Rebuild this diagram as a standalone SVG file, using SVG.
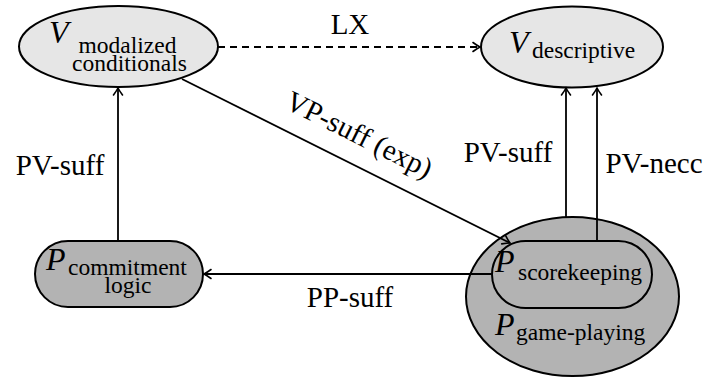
<svg xmlns="http://www.w3.org/2000/svg" width="714" height="377" viewBox="0 0 714 377">
<style>
.light{fill:#e6e6e6;stroke:#000;stroke-width:2}
.dark{fill:#b3b3b3;stroke:#000;stroke-width:2}
.big{font-family:"Liberation Serif",serif;font-style:italic;font-size:32px;fill:#000}
.sub{font-family:"Liberation Serif",serif;font-size:23.5px;fill:#000}
.lab{font-family:"Liberation Serif",serif;font-size:29px;fill:#000}
.edge{fill:none;stroke:#000;stroke-width:1.8}
</style>
<defs>
<marker id="arr" viewBox="-10 -6 12 12" refX="0" refY="0" markerWidth="12" markerHeight="12" markerUnits="userSpaceOnUse" orient="auto">
<path d="M-7,-4.5 Q-2.5,-1.2 0,0 Q-2.5,1.2 -7,4.5" fill="none" stroke="#000" stroke-width="1.6" stroke-linecap="round"/>
</marker>
</defs>
<g id="n-vmod">
<ellipse class="light" cx="118.5" cy="46.5" rx="99.5" ry="40.5"/>
<text class="big" x="49" y="43">V</text>
<text class="sub" text-anchor="middle"><tspan x="127.5" y="53">modalized</tspan><tspan x="129.5" y="71">conditionals</tspan></text>
</g>
<g id="n-vdesc">
<ellipse class="light" cx="572" cy="47" rx="91" ry="40.5"/>
<text class="big" x="509" y="53">V</text>
<text class="sub" x="532" y="58">descriptive</text>
</g>
<g id="n-pcomm">
<rect class="dark" x="35" y="241" width="168" height="66" rx="33" ry="33"/>
<text class="big" x="46" y="270">P</text>
<text class="sub" text-anchor="middle"><tspan x="127.5" y="275">commitment</tspan><tspan x="128" y="293">logic</tspan></text>
</g>
<g id="n-pgame">
<ellipse class="dark" cx="572.5" cy="296.5" rx="106.5" ry="79.5"/>
<text class="big" x="495" y="335">P</text>
<text class="sub" x="516" y="340">game-playing</text>
</g>
<g id="n-pscore">
<rect class="dark" x="492" y="241" width="160" height="67" rx="33.5" ry="33.5"/>
<text class="big" x="495" y="272">P</text>
<text class="sub" x="518" y="280">scorekeeping</text>
</g>
<g id="connectors">
<line class="edge" x1="218" y1="47" x2="480" y2="47" stroke-dasharray="7,5" marker-end="url(#arr)"/>
<line class="edge" x1="118" y1="241" x2="118" y2="88" marker-end="url(#arr)"/>
<line class="edge" x1="182" y1="79" x2="510" y2="243" marker-end="url(#arr)"/>
<line class="edge" x1="566" y1="217" x2="566" y2="88" marker-end="url(#arr)"/>
<line class="edge" x1="597" y1="241" x2="597" y2="88" marker-end="url(#arr)"/>
<line class="edge" x1="492" y1="274" x2="204" y2="274" marker-end="url(#arr)"/>
<text class="lab" x="350" y="34" text-anchor="middle">LX</text>
<text class="lab" x="60" y="175" text-anchor="middle">PV-suff</text>
<text class="lab" x="508" y="162" text-anchor="middle">PV-suff</text>
<text class="lab" x="654" y="173" text-anchor="middle">PV-necc</text>
<text class="lab" x="350" y="307" text-anchor="middle">PP-suff</text>
<text class="lab" transform="translate(346,161) rotate(26.57)" x="0" y="-20" text-anchor="middle">VP-suff (exp)</text>
</g>
</svg>
